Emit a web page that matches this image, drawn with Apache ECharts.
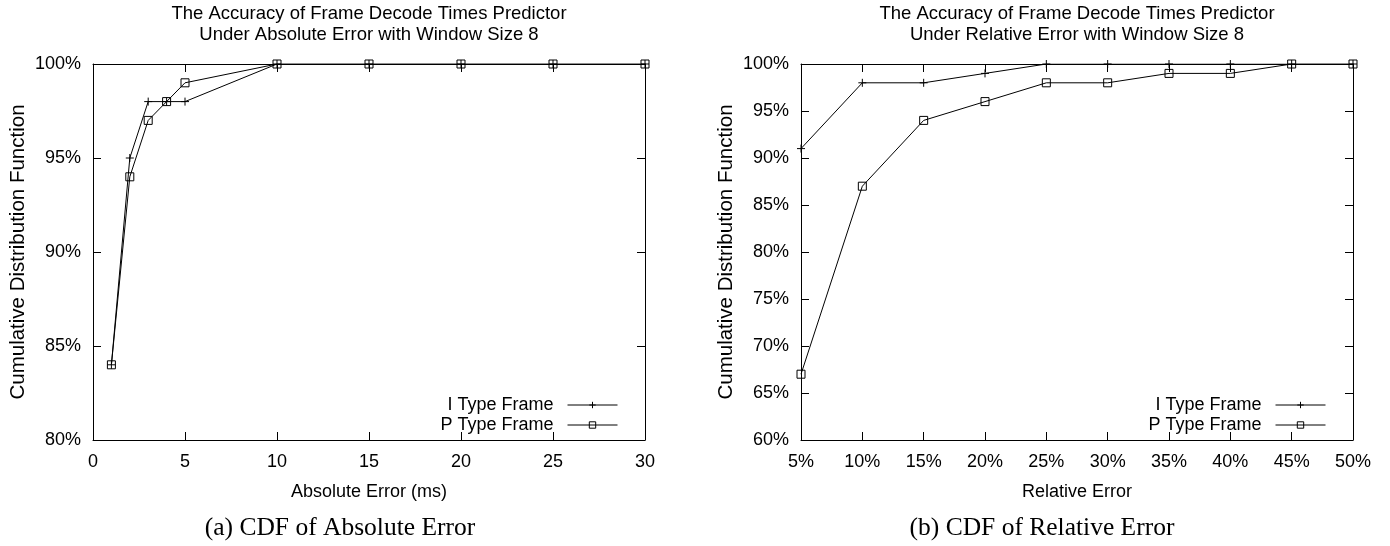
<!DOCTYPE html>
<html><head><meta charset="utf-8">
<script src="https://cdn.jsdelivr.net/npm/echarts@6/dist/echarts.min.js"></script>
<style>html,body{margin:0;padding:0;background:#fff}#c{width:1390px;height:546px}</style>
</head><body><div id="c"></div>
<script>
// Left chart: absolute error (ms)
const absX = [1, 2, 3, 4, 5, 10, 15, 20, 25, 30];
const absI = [84, 95, 98, 98, 98, 100, 100, 100, 100, 100];
const absP = [84, 94, 97, 98, 99, 100, 100, 100, 100, 100];
// Right chart: relative error (%)
const relX = [5, 10, 15, 20, 25, 30, 35, 40, 45, 50];
const relI = [91, 98, 98, 99, 100, 100, 100, 100, 100, 100];
const relP = [67, 87, 94, 96, 98, 98, 99, 99, 100, 100];

const titles = ["The Accuracy of Frame Decode Times Predictor\nUnder Absolute Error with Window Size 8",
                "The Accuracy of Frame Decode Times Predictor\nUnder Relative Error with Window Size 8"];
const captions = ["(a) CDF of Absolute Error", "(b) CDF of Relative Error"];
const xNames = ["Absolute Error (ms)", "Relative Error"];
const yName = "Cumulative Distribution Function";
const seriesNames = ["I Type Frame", "P Type Frame"];

const FONT = "Liberation Sans";
const FS = 18;
const plus = 'path://M0,5L10,5M5,0L5,10';
const txt = {fontFamily: FONT, fontSize: FS, color: '#000'};

function pairs(xs, ys){ return xs.map((x,i)=>[x, ys[i]]); }

const grids = [
  {left: 93, right: 745, top: 64, bottom: 106},
  {left: 801, right: 37, top: 64, bottom: 106}
];

function xAxes(gi, min, max, fmt){
  const base = {gridIndex: gi, type: 'value', min: min, max: max, interval: 5,
    axisLine: {show: true, onZero: false, lineStyle: {color: '#000', width: 1}},
    axisTick: {show: true, inside: true, length: 8, lineStyle: {color: '#000'}},
    splitLine: {show: false}};
  return [
    Object.assign({}, base, {position: 'bottom',
      axisLabel: Object.assign({}, txt, {margin: 13, formatter: fmt}),
      name: xNames[gi], nameLocation: 'middle', nameGap: 43,
      nameTextStyle: Object.assign({}, txt)}),
    Object.assign({}, base, {position: 'top', axisLabel: {show: false}})
  ];
}
function yAxes(gi, min, max){
  const base = {gridIndex: gi, type: 'value', min: min, max: max, interval: 5,
    axisLine: {show: true, onZero: false, lineStyle: {color: '#000', width: 1}},
    axisTick: {show: true, inside: true, length: 8, lineStyle: {color: '#000'}},
    splitLine: {show: false}};
  return [
    Object.assign({}, base, {position: 'left',
      axisLabel: Object.assign({}, txt, {margin: 12, formatter: '{value}%'}),
      name: yName, nameLocation: 'middle', nameGap: 64,
      nameTextStyle: Object.assign({}, txt, {fontSize: 20.5})}),
    Object.assign({}, base, {position: 'right', axisLabel: {show: false}})
  ];
}

function lineSeries(name, data, xi, yi, isPlus){
  return {
    name: name, type: 'line', xAxisIndex: xi, yAxisIndex: yi, data: data,
    symbol: isPlus ? plus : 'rect', symbolSize: 8,
    showAllSymbol: true, animation: false,
    lineStyle: {color: '#000', width: 1},
    itemStyle: {color: isPlus ? '#000' : 'rgba(0,0,0,0)', borderColor: '#000', borderWidth: 1}
  };
}

function legend(name, right, top){
  return {data: [name], orient: 'vertical', right: right, top: top, align: 'right',
    itemWidth: 50, itemHeight: 8, itemGap: 0, padding: 0,
    lineStyle: {width: 1, color: '#000'},
    itemStyle: {borderWidth: 1, borderColor: '#000'},
    textStyle: Object.assign({}, txt, {padding: [0, 9, 0, 0]}), selectedMode: false};
}

const titleStyle = {fontFamily: FONT, fontSize: 18.5, fontWeight: 'normal', color: '#000', lineHeight: 21};
const capStyle = {fontFamily: 'Liberation Serif', fontSize: 25.5, fontWeight: 'normal', color: '#000'};

const option = {
  backgroundColor: '#fff',
  animation: false,
  title: [
    {text: titles[0], left: 369, top: 3, textAlign: 'center', textStyle: titleStyle, padding: 0},
    {text: titles[1], left: 1077, top: 3, textAlign: 'center', textStyle: titleStyle, padding: 0},
    {text: captions[0], left: 340, top: 515, textAlign: 'center', textStyle: capStyle, padding: 0},
    {text: captions[1], left: 1042, top: 515, textAlign: 'center', textStyle: capStyle, padding: 0}
  ],
  legend: [
    legend(seriesNames[0], 772, 396),
    legend(seriesNames[1], 772, 416),
    legend(seriesNames[0], 64, 396),
    legend(seriesNames[1], 64, 416)
  ],
  grid: grids,
  xAxis: [].concat(xAxes(0, 0, 30, '{value}'), xAxes(1, 5, 50, '{value}%')),
  yAxis: [].concat(yAxes(0, 80, 100), yAxes(1, 60, 100)),
  series: [
    lineSeries(seriesNames[0], pairs(absX, absI), 0, 0, true),
    lineSeries(seriesNames[1], pairs(absX, absP), 0, 0, false),
    lineSeries(seriesNames[0], pairs(relX, relI), 2, 2, true),
    lineSeries(seriesNames[1], pairs(relX, relP), 2, 2, false)
  ]
};
const chart = echarts.init(document.getElementById('c'), null, {renderer: 'canvas'});
chart.setOption(option);
</script></body></html>
